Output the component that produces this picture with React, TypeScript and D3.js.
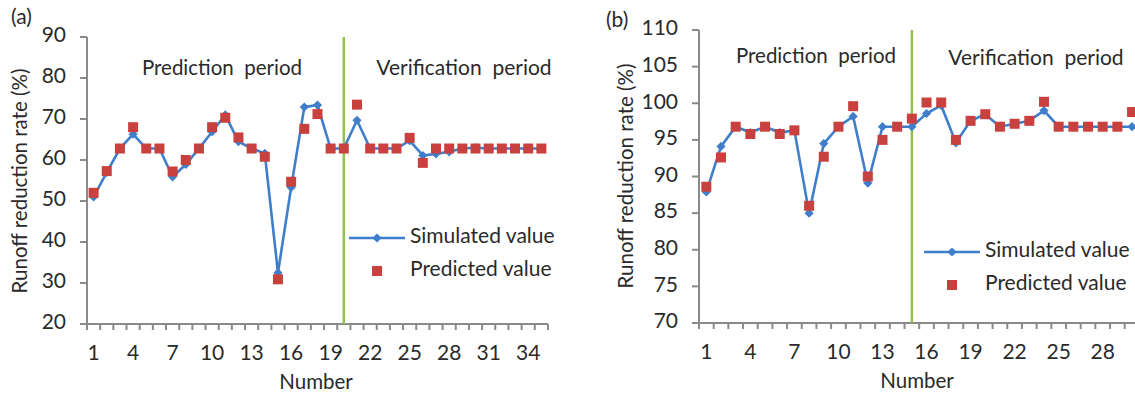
import React, { useEffect } from 'react';
import * as d3 from 'd3';

// panel (a)
const simA = [51, 57, 62.8, 66.3, 62.8, 62.8, 55.9, 58.9, 62.8, 66.9, 71, 64.5, 62.8, 61.6, 32.5, 53.3, 72.9, 73.4, 62.8, 62.8, 69.7, 62.8, 62.8, 62.8, 64.7, 61.1, 61.5, 62, 62.8, 63, 62.8, 62.8, 62.8, 62.8, 62.8];
const predA = [52, 57.3, 62.8, 68, 62.8, 62.8, 57.2, 60, 62.8, 68, 70.3, 65.5, 62.8, 60.8, 30.9, 54.7, 67.6, 71.2, 62.8, 62.8, 73.5, 62.8, 62.8, 62.8, 65.4, 59.3, 62.8, 62.8, 62.8, 62.8, 62.8, 62.8, 62.8, 62.8, 62.8];
const xLabelsA = [1, 4, 7, 10, 13, 16, 19, 22, 25, 28, 31, 34];
const yTicksA = [20, 30, 40, 50, 60, 70, 80, 90];

// panel (b)
const simB = [87.9, 94.1, 96.8, 96, 96.8, 96, 96.3, 85, 94.5, 96.8, 98.2, 89.1, 96.8, 96.8, 96.8, 98.6, 99.7, 94.6, 97.6, 98.5, 96.8, 97.2, 97.6, 99, 96.8, 96.8, 96.8, 96.8, 96.8, 96.8];
const predB = [88.6, 92.6, 96.8, 95.8, 96.8, 95.8, 96.3, 86, 92.7, 96.8, 99.6, 90, 95, 96.8, 97.9, 100.1, 100.1, 95, 97.6, 98.5, 96.8, 97.2, 97.6, 100.2, 96.8, 96.8, 96.8, 96.8, 96.8, 98.8];
const xLabelsB = [1, 4, 7, 10, 13, 16, 19, 22, 25, 28];
const yTicksB = [70, 75, 80, 85, 90, 95, 100, 105, 110];

const FONT = 'Lato, "Open Sans", sans-serif';
const BLUE = '#3f7ecb';
const RED = '#c8413f';
const GREEN = '#93c04f';
const AXIS = '#8a8a8a';
const TEXT = '#2a2a2a';

type PanelProps = {
  tag: string;
  sim: number[];
  pred: number[];
  xLabels: number[];
  yTicks: number[];
  split: number;
  left: number;
  band: number;
  top: number;
  bottom: number;
  predText: [number, number];
  verText: [number, number];
  legend: [number, number];
  tagPos: [number, number];
  titleX: number;
  titleY: number;
  numberX: number;
};

const Panel = (p: PanelProps) => {
  const cats = p.sim.map((_, i) => i + 1);
  const x = d3.scaleBand<number>().domain(cats).range([p.left, p.left + p.band * cats.length]).padding(0);
  const cx = (c: number) => (x(c) as number) + x.bandwidth() / 2;
  const y = d3.scaleLinear().domain([p.yTicks[0], p.yTicks[p.yTicks.length - 1]]).range([p.bottom, p.top]);
  const line = d3.line<number>().x((_, i) => cx(i + 1)).y(d => y(d));
  const diamond = (px: number, py: number, r = 4.6) => `M${px},${py - r}L${px + r},${py}L${px},${py + r}L${px - r},${py}Z`;
  const sq = 10;
  const xEnd = p.left + p.band * cats.length;
  const boundaries = d3.range(cats.length + 1).map(i => p.left + i * p.band);
  const [lx, ly] = p.legend;

  return (
    <g fontFamily={FONT} fill={TEXT}>
      <text x={p.tagPos[0]} y={p.tagPos[1]} fontSize={21} dominantBaseline="middle">{p.tag}</text>
      {/* y axis */}
      <line x1={p.left} x2={p.left} y1={p.top} y2={p.bottom} stroke={AXIS} strokeWidth={2} />
      {p.yTicks.map(t => (
        <g key={t}>
          <line x1={p.left - 7} x2={p.left} y1={y(t)} y2={y(t)} stroke={AXIS} strokeWidth={2} />
          <text x={p.left - 21} y={y(t)} fontSize={21} textAnchor="end" dominantBaseline="middle">{t}</text>
        </g>
      ))}
      {/* x axis */}
      <line x1={p.left} x2={xEnd} y1={p.bottom} y2={p.bottom} stroke={AXIS} strokeWidth={2} />
      {boundaries.map((b, i) => (
        <line key={i} x1={b} x2={b} y1={p.bottom} y2={p.bottom + 6} stroke={AXIS} strokeWidth={2} />
      ))}
      {p.xLabels.map(c => (
        <text key={c} x={cx(c)} y={p.bottom + 31} fontSize={21} textAnchor="middle" dominantBaseline="middle">{c}</text>
      ))}
      <text x={p.numberX} y={p.bottom + 60} fontSize={20.5} textAnchor="middle" dominantBaseline="middle">Number</text>
      <text transform={`translate(${p.titleX},${p.titleY}) rotate(-90)`} fontSize={20.5} textAnchor="middle" dominantBaseline="middle">Runoff reduction rate (%)</text>
      {/* period divider */}
      <line x1={cx(p.split)} x2={cx(p.split)} y1={p.top} y2={p.bottom} stroke={GREEN} strokeWidth={2.5} />
      <text x={p.predText[0]} y={p.predText[1]} fontSize={20.5} textAnchor="middle" dominantBaseline="middle" style={{ whiteSpace: 'pre' }}>{'Prediction  period'}</text>
      <text x={p.verText[0]} y={p.verText[1]} fontSize={21} textAnchor="middle" dominantBaseline="middle" style={{ whiteSpace: 'pre' }}>{'Verification  period'}</text>
      {/* series */}
      <path d={line(p.sim) as string} fill="none" stroke={BLUE} strokeWidth={2.6} />
      {p.sim.map((v, i) => (
        <path key={i} d={diamond(cx(i + 1), y(v))} fill={BLUE} />
      ))}
      {p.pred.map((v, i) => (
        <rect key={i} x={cx(i + 1) - sq / 2} y={y(v) - sq / 2} width={sq} height={sq} fill={RED} />
      ))}
      {/* legend */}
      <line x1={lx - 28} x2={lx + 28} y1={ly} y2={ly} stroke={BLUE} strokeWidth={2.6} />
      <path d={diamond(lx, ly)} fill={BLUE} />
      <text x={lx + 33} y={ly} fontSize={21} dominantBaseline="middle">Simulated value</text>
      <rect x={lx - sq / 2} y={ly + 33 - sq / 2} width={sq} height={sq} fill={RED} />
      <text x={lx + 33} y={ly + 33} fontSize={21} dominantBaseline="middle">Predicted value</text>
    </g>
  );
};

export default function App() {
  useEffect(() => {
    document.body.style.margin = '0';
  }, []);
  return (
    <svg width={1135} height={394} style={{ display: 'block', background: '#fff', overflow: 'hidden' }}>
      <Panel
        tag="(a)" sim={simA} pred={predA} xLabels={xLabelsA} yTicks={yTicksA} split={20}
        left={87} band={13.17} top={37} bottom={324}
        predText={[222, 70]} verText={[464, 70]} legend={[377, 238]} tagPos={[11, 19]}
        titleX={22} titleY={181} numberX={316}
      />
      <Panel
        tag="(b)" sim={simB} pred={predB} xLabels={xLabelsB} yTicks={yTicksB} split={15}
        left={699} band={14.68} top={30} bottom={323}
        predText={[816, 58]} verText={[1036, 60]} legend={[952, 252]} tagPos={[606, 22]}
        titleX={628} titleY={176} numberX={917}
      />
    </svg>
  );
}
